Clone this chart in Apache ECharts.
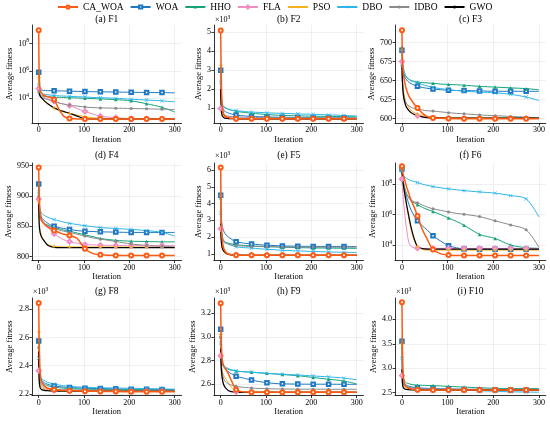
<!DOCTYPE html>
<html>
<head>
<meta charset="utf-8">
<script src="https://cdn.jsdelivr.net/npm/echarts@6/dist/echarts.min.js"></script>
<style>
  html, body { margin: 0; padding: 0; background: #fff; }
  #chart { width: 550px; height: 423px; }
</style>
</head>
<body>
<div id="chart"></div>
<script>
// algorithms, in legend order
const names = ['CA_WOA', 'WOA', 'HHO', 'FLA', 'PSO', 'DBO', 'IDBO', 'GWO'];

// sampled iterations (markers sit every 34 iterations)
const iterations = [0, 1, 3, 6, 10, 15, 20, 27, 34, 45, 55, 68, 85, 102, 120, 136, 170, 204, 238, 272, 300];
const markedIterations = [0, 34, 68, 102, 136, 170, 204, 238, 272];
const xTicks = [0, 100, 200, 300];

// average fitness per panel, rows in the order of names
const f1 = [
  [9e8, 1e6, 4e4, 2.5e4, 1.8e4, 1.5e4, 1.3e4, 1.1e4, 8e3, 1.5e3, 500, 330, 315, 310, 310, 310, 310, 310, 310, 310, 310],
  [8e5, 1e5, 4.5e4, 4e4, 3.8e4, 3.7e4, 3.6e4, 3.6e4, 3.5e4, 3.45e4, 3.4e4, 3.3e4, 3.2e4, 3.1e4, 3e4, 2.95e4, 2.85e4, 2.75e4, 2.65e4, 2.6e4, 2.5e4],
  [9e5, 5e4, 2e4, 1.6e4, 1.4e4, 1.35e4, 1.3e4, 1.25e4, 1.2e4, 1.17e4, 1.14e4, 1.1e4, 1.05e4, 1e4, 9.5e3, 9e3, 8e3, 6.5e3, 4e3, 2.2e3, 1e3],
  [5e4, 3e4, 2e4, 1.5e4, 1.2e4, 1.05e4, 9e3, 7.5e3, 6e3, 4.5e3, 3.8e3, 3e3, 1.8e3, 1.1e3, 700, 500, 380, 330, 320, 320, 320],
  [3.5e5, 3e4, 1.5e4, 1e4, 7e3, 5e3, 4e3, 2.8e3, 2e3, 1.3e3, 1e3, 800, 600, 450, 380, 340, 320, 320, 320, 320, 320],
  [9e4, 4e4, 2.8e4, 2.3e4, 2e4, 1.9e4, 1.8e4, 1.7e4, 1.6e4, 1.5e4, 1.45e4, 1.4e4, 1.3e4, 1.25e4, 1.15e4, 1.1e4, 1e4, 8.5e3, 7.5e3, 6.5e3, 5.5e3],
  [3e4, 2e4, 1.5e4, 1.2e4, 1e4, 9e3, 8e3, 7e3, 6e3, 4.5e3, 3.8e3, 3.2e3, 2.7e3, 2.3e3, 2.1e3, 2e3, 1.9e3, 1.8e3, 1.7e3, 1.6e3, 1.5e3],
  [4e4, 2.5e4, 1.5e4, 1.1e4, 8e3, 5.5e3, 4e3, 2.8e3, 2e3, 1.4e3, 1.1e3, 800, 500, 320, 310, 310, 310, 310, 310, 310, 310]
];
const f2 = [
  [5.1, 3.0, 1.2, 0.7, 0.55, 0.5, 0.47, 0.45, 0.43, 0.425, 0.42, 0.42, 0.42, 0.42, 0.42, 0.42, 0.42, 0.42, 0.42, 0.42, 0.42],
  [3.0, 1.8, 1.1, 0.9, 0.8, 0.75, 0.7, 0.66, 0.62, 0.59, 0.57, 0.55, 0.535, 0.52, 0.51, 0.5, 0.49, 0.48, 0.47, 0.47, 0.46],
  [2.95, 1.8, 1.2, 1.05, 1.0, 0.95, 0.9, 0.86, 0.82, 0.78, 0.75, 0.72, 0.68, 0.65, 0.62, 0.6, 0.58, 0.56, 0.55, 0.54, 0.53],
  [0.97, 0.8, 0.6, 0.5, 0.45, 0.44, 0.43, 0.425, 0.42, 0.42, 0.42, 0.42, 0.42, 0.42, 0.42, 0.42, 0.42, 0.42, 0.42, 0.42, 0.42],
  [3.25, 1.5, 0.8, 0.6, 0.5, 0.47, 0.45, 0.44, 0.43, 0.425, 0.42, 0.42, 0.42, 0.42, 0.42, 0.42, 0.42, 0.42, 0.42, 0.42, 0.42],
  [2.35, 1.6, 1.25, 1.1, 1.0, 0.95, 0.9, 0.87, 0.85, 0.83, 0.8, 0.78, 0.76, 0.74, 0.72, 0.71, 0.68, 0.66, 0.63, 0.6, 0.57],
  [3.0, 1.5, 0.9, 0.7, 0.6, 0.57, 0.55, 0.53, 0.52, 0.51, 0.505, 0.5, 0.495, 0.49, 0.49, 0.485, 0.48, 0.48, 0.475, 0.47, 0.47],
  [2.0, 1.0, 0.6, 0.5, 0.45, 0.44, 0.43, 0.425, 0.42, 0.42, 0.42, 0.42, 0.42, 0.42, 0.42, 0.42, 0.42, 0.42, 0.42, 0.42, 0.42]
];
const f3 = [
  [716, 680, 660, 648, 638, 630, 625, 619, 614, 607, 603, 601, 600.5, 600.2, 600, 600, 600, 600, 600, 600, 600],
  [690, 670, 660, 655, 651, 648, 646, 644, 642.5, 641, 640, 639, 638, 637.5, 637, 637, 636.5, 636, 636, 636, 636],
  [694, 672, 662, 657, 654, 652, 650, 649, 648, 647.5, 647, 646.5, 645.5, 645, 644.5, 644, 642.5, 641.5, 640.5, 639.5, 638],
  [675, 650, 630, 620, 614, 610, 608, 606, 604, 602, 601.5, 601, 600.5, 600.5, 600.5, 600.5, 600.5, 600.5, 600.5, 600.5, 600.5],
  [690, 660, 640, 628, 620, 615, 611, 608, 606, 604, 603, 602, 601.5, 601, 601, 601, 601, 601, 601, 601, 601],
  [688, 675, 668, 660, 655, 652, 650, 648.5, 647, 645, 643, 641, 639.5, 638, 637, 636, 635, 634, 632, 628.5, 624],
  [670, 650, 635, 625, 620, 617, 615, 613.5, 612.5, 611.5, 610.5, 610, 609, 608, 607, 606.5, 605, 604, 603, 602, 601],
  [670, 648, 632, 622, 615, 611, 608, 605.5, 604, 602.5, 601.5, 601, 600.8, 600.8, 600.8, 600.8, 600.8, 600.8, 600.8, 600.8, 600.8]
];
const f4 = [
  [947, 905, 875, 862, 856, 852, 849, 846, 843, 840, 837, 835, 830, 813, 805, 803, 802, 802, 802, 802, 802],
  [920, 890, 872, 865, 861, 858, 855, 852, 850, 848, 846.5, 845, 843, 842, 841.5, 841, 840.5, 840, 840, 840, 840],
  [920, 885, 868, 861, 857, 854, 852, 850, 848, 846, 844, 842, 839, 836, 833, 830, 827, 825.5, 825, 824.5, 824.5],
  [895, 870, 862, 858, 855, 851, 848, 843, 838, 832, 828, 825, 822, 820, 819.5, 819, 818.5, 818.5, 818.5, 818.5, 818.5],
  [890, 860, 845, 835, 828, 823, 820, 818, 817, 816.5, 816, 816, 816, 816, 816, 816, 816, 816, 816, 816, 816],
  [907, 890, 878, 872, 869, 867, 865, 863, 861, 859, 857, 855, 853, 851, 849.5, 848, 846.5, 845, 843, 840, 834],
  [900, 875, 865, 860, 856, 853, 851, 849, 847, 844, 842, 840, 837, 834, 831, 829, 825, 821, 818.5, 817, 816],
  [897, 855, 840, 833, 828, 823, 819, 816.5, 815.5, 815, 815, 815, 815, 815, 815, 815, 815, 815, 815, 815, 815]
];
const f5 = [
  [6.15, 3.5, 2.0, 1.4, 1.15, 1.02, 0.97, 0.94, 0.93, 0.92, 0.92, 0.92, 0.92, 0.92, 0.92, 0.92, 0.92, 0.92, 0.92, 0.92, 0.92],
  [4.5, 3.3, 2.7, 2.4, 2.2, 2.05, 1.95, 1.82, 1.72, 1.67, 1.63, 1.6, 1.55, 1.52, 1.5, 1.48, 1.46, 1.45, 1.45, 1.45, 1.44],
  [4.35, 2.8, 2.0, 1.8, 1.7, 1.66, 1.62, 1.58, 1.55, 1.52, 1.5, 1.48, 1.46, 1.44, 1.42, 1.4, 1.38, 1.36, 1.35, 1.34, 1.33],
  [2.5, 1.8, 1.4, 1.2, 1.1, 1.04, 1.0, 0.97, 0.95, 0.94, 0.93, 0.93, 0.93, 0.93, 0.93, 0.93, 0.93, 0.93, 0.93, 0.93, 0.93],
  [4.5, 2.2, 1.4, 1.15, 1.02, 0.98, 0.96, 0.95, 0.94, 0.93, 0.93, 0.93, 0.93, 0.93, 0.93, 0.93, 0.93, 0.93, 0.93, 0.93, 0.93],
  [3.45, 2.6, 2.1, 1.85, 1.7, 1.62, 1.55, 1.48, 1.42, 1.39, 1.37, 1.35, 1.31, 1.28, 1.25, 1.22, 1.18, 1.15, 1.12, 1.1, 1.08],
  [4.4, 2.6, 2.0, 1.75, 1.65, 1.6, 1.55, 1.52, 1.5, 1.48, 1.46, 1.45, 1.44, 1.43, 1.43, 1.42, 1.41, 1.41, 1.4, 1.4, 1.4],
  [2.8, 1.9, 1.4, 1.2, 1.08, 1.0, 0.96, 0.94, 0.93, 0.92, 0.92, 0.92, 0.92, 0.92, 0.92, 0.92, 0.92, 0.92, 0.92, 0.92, 0.92]
];
const f6 = [
  [1.5e9, 8e8, 4e8, 2e8, 7e7, 2.5e7, 9e6, 3e6, 8e5, 1e5, 2.5e4, 5e3, 2.6e3, 2.2e3, 2e3, 2e3, 2e3, 2e3, 2e3, 2e3, 2e3],
  [1e9, 5e8, 1.5e8, 4e7, 1.5e7, 5e6, 2e6, 8e5, 4e5, 1.8e5, 1e5, 4e4, 1.8e4, 9e3, 6.5e3, 5.5e3, 5.3e3, 5.3e3, 5.3e3, 5.3e3, 5.3e3],
  [1e9, 4e8, 1.5e8, 6e7, 2.5e7, 1.3e7, 8e6, 6e6, 4.5e6, 3e6, 2.2e6, 1.6e6, 1e6, 6e5, 3.5e5, 2e5, 5e4, 2.7e4, 1e4, 6.6e3, 6e3],
  [2.2e8, 6e7, 1e7, 1.2e6, 1.2e5, 1.5e4, 8e3, 6.5e3, 6.2e3, 6e3, 6e3, 6e3, 6e3, 6e3, 6e3, 6e3, 6e3, 6e3, 6e3, 6e3, 6e3],
  [1e9, 3e8, 8e7, 2e7, 4e6, 6e5, 1e5, 2e4, 8e3, 5e3, 4.6e3, 4.6e3, 4.6e3, 4.6e3, 4.6e3, 4.6e3, 4.6e3, 4.6e3, 4.6e3, 4.6e3, 4.6e3],
  [7e8, 5e8, 4e8, 3e8, 2.5e8, 2e8, 1.7e8, 1.5e8, 1.3e8, 1e8, 8.5e7, 7e7, 5.8e7, 4.9e7, 4.3e7, 3.8e7, 3.1e7, 2.6e7, 1.8e7, 1.1e7, 7e5],
  [1e9, 3e8, 1.2e8, 5e7, 2.2e7, 1.3e7, 9e6, 7e6, 6e6, 4.2e6, 3.2e6, 2.4e6, 1.9e6, 1.5e6, 1.2e6, 1.05e6, 7.4e5, 3.9e5, 2.1e5, 1e5, 7e3],
  [1e9, 3e8, 9e7, 2.5e7, 5e6, 8e5, 1.5e5, 2.5e4, 8e3, 5.8e3, 5.4e3, 5.4e3, 5.4e3, 5.4e3, 5.4e3, 5.4e3, 5.4e3, 5.4e3, 5.4e3, 5.4e3, 5.4e3]
];
const f8 = [
  [2.845, 2.6, 2.36, 2.29, 2.265, 2.25, 2.24, 2.235, 2.23, 2.227, 2.225, 2.223, 2.221, 2.22, 2.219, 2.218, 2.217, 2.216, 2.216, 2.215, 2.215],
  [2.575, 2.42, 2.33, 2.3, 2.285, 2.275, 2.268, 2.262, 2.257, 2.252, 2.249, 2.246, 2.243, 2.241, 2.239, 2.238, 2.236, 2.234, 2.233, 2.232, 2.231],
  [2.57, 2.4, 2.32, 2.29, 2.275, 2.265, 2.258, 2.252, 2.248, 2.244, 2.241, 2.238, 2.236, 2.234, 2.233, 2.232, 2.231, 2.23, 2.229, 2.228, 2.228],
  [2.365, 2.3, 2.26, 2.245, 2.238, 2.233, 2.23, 2.228, 2.226, 2.225, 2.224, 2.223, 2.223, 2.222, 2.222, 2.222, 2.222, 2.222, 2.222, 2.222, 2.222],
  [2.64, 2.35, 2.27, 2.245, 2.235, 2.23, 2.228, 2.226, 2.225, 2.224, 2.223, 2.222, 2.222, 2.222, 2.222, 2.222, 2.222, 2.222, 2.222, 2.222, 2.222],
  [2.453, 2.38, 2.33, 2.31, 2.3, 2.29, 2.282, 2.275, 2.27, 2.263, 2.258, 2.254, 2.25, 2.247, 2.245, 2.244, 2.242, 2.24, 2.238, 2.236, 2.234],
  [2.53, 2.36, 2.29, 2.265, 2.25, 2.243, 2.238, 2.235, 2.233, 2.231, 2.23, 2.229, 2.228, 2.228, 2.227, 2.227, 2.227, 2.226, 2.226, 2.226, 2.226],
  [2.5, 2.3, 2.245, 2.232, 2.227, 2.224, 2.223, 2.222, 2.221, 2.22, 2.22, 2.219, 2.219, 2.219, 2.219, 2.219, 2.219, 2.219, 2.219, 2.219, 2.219]
];
const f9 = [
  [3.285, 3.0, 2.82, 2.76, 2.73, 2.7, 2.66, 2.6, 2.55, 2.535, 2.532, 2.53, 2.53, 2.53, 2.53, 2.53, 2.53, 2.53, 2.53, 2.53, 2.53],
  [3.065, 2.85, 2.78, 2.75, 2.73, 2.71, 2.695, 2.68, 2.665, 2.655, 2.645, 2.634, 2.62, 2.611, 2.604, 2.601, 2.599, 2.598, 2.598, 2.597, 2.597],
  [3.0, 2.82, 2.77, 2.75, 2.735, 2.727, 2.72, 2.715, 2.71, 2.706, 2.703, 2.7, 2.695, 2.69, 2.685, 2.68, 2.67, 2.655, 2.64, 2.625, 2.6],
  [2.84, 2.72, 2.65, 2.6, 2.57, 2.55, 2.54, 2.535, 2.533, 2.53, 2.53, 2.53, 2.53, 2.53, 2.53, 2.53, 2.53, 2.53, 2.53, 2.53, 2.53],
  [3.02, 2.8, 2.72, 2.68, 2.65, 2.62, 2.59, 2.56, 2.54, 2.535, 2.532, 2.532, 2.532, 2.532, 2.532, 2.532, 2.532, 2.532, 2.532, 2.532, 2.532],
  [2.95, 2.82, 2.78, 2.76, 2.745, 2.735, 2.725, 2.717, 2.71, 2.705, 2.702, 2.7, 2.695, 2.69, 2.686, 2.683, 2.676, 2.668, 2.66, 2.65, 2.635],
  [3.0, 2.8, 2.7, 2.65, 2.62, 2.605, 2.595, 2.587, 2.58, 2.574, 2.57, 2.565, 2.562, 2.56, 2.558, 2.557, 2.556, 2.556, 2.555, 2.555, 2.555],
  [2.9, 2.75, 2.66, 2.6, 2.57, 2.55, 2.538, 2.532, 2.53, 2.528, 2.528, 2.528, 2.528, 2.528, 2.528, 2.528, 2.528, 2.528, 2.528, 2.528, 2.528]
];
const f10 = [
  [4.35, 3.4, 2.85, 2.68, 2.62, 2.59, 2.575, 2.565, 2.56, 2.557, 2.555, 2.555, 2.555, 2.555, 2.555, 2.555, 2.555, 2.555, 2.555, 2.555, 2.555],
  [3.55, 2.95, 2.75, 2.68, 2.65, 2.635, 2.62, 2.61, 2.6, 2.594, 2.59, 2.585, 2.58, 2.575, 2.571, 2.568, 2.562, 2.558, 2.555, 2.553, 2.552],
  [3.6, 3.0, 2.8, 2.73, 2.7, 2.685, 2.67, 2.662, 2.655, 2.652, 2.648, 2.645, 2.638, 2.63, 2.622, 2.615, 2.6, 2.59, 2.585, 2.585, 2.585],
  [2.85, 2.7, 2.62, 2.59, 2.575, 2.57, 2.565, 2.562, 2.56, 2.558, 2.556, 2.555, 2.555, 2.555, 2.555, 2.555, 2.555, 2.555, 2.555, 2.555, 2.555],
  [3.5, 2.9, 2.7, 2.62, 2.59, 2.58, 2.57, 2.565, 2.562, 2.56, 2.559, 2.558, 2.558, 2.558, 2.558, 2.558, 2.558, 2.558, 2.558, 2.558, 2.558],
  [3.2, 2.8, 2.68, 2.64, 2.62, 2.61, 2.6, 2.592, 2.585, 2.58, 2.575, 2.57, 2.565, 2.56, 2.555, 2.55, 2.54, 2.53, 2.52, 2.515, 2.51],
  [3.55, 2.9, 2.7, 2.64, 2.62, 2.61, 2.6, 2.595, 2.59, 2.586, 2.583, 2.58, 2.578, 2.576, 2.574, 2.573, 2.572, 2.571, 2.57, 2.57, 2.57],
  [2.98, 2.7, 2.6, 2.575, 2.565, 2.562, 2.56, 2.558, 2.557, 2.556, 2.555, 2.555, 2.555, 2.555, 2.555, 2.555, 2.555, 2.555, 2.555, 2.555, 2.555]
];

// y tick labels per panel
const yTicks = [
  [1e4, 1e6, 1e8],
  [1, 2, 3, 4, 5],
  [600, 625, 650, 675, 700],
  [800, 850, 900, 950],
  [1, 2, 3, 4, 5, 6],
  [1e4, 1e6, 1e8],
  [2.2, 2.4, 2.6, 2.8],
  [2.6, 2.8, 3.0, 3.2],
  [2.5, 3.0, 3.5, 4.0]
];
const titles = ['(a) F1', '(b) F2', '(c) F3', '(d) F4', '(e) F5', '(f) F6', '(g) F8', '(h) F9', '(i) F10'];
const panelData = [f1, f2, f3, f4, f5, f6, f8, f9, f10];

// axis setup per panel
const yRange = [[158, 2.2e9], [0.2, 5.39], [594.4, 723], [793.7, 954.5], [0.61, 6.42], [955, 2.5e9], [2.189, 2.88], [2.502, 3.33], [2.443, 4.436]];
const isLog = [true, false, false, false, false, true, false, false, false];
const scaled = [false, true, false, false, true, false, true, true, true];
const decimals = [0, 0, 0, 0, 0, 0, 1, 1, 1];
const nameGaps = [18, 10.5, 19, 17.5, 9, 17, 17.5, 15.5, 17];

const colLeft = [31.9, 213.9, 395.1];
const colWidth = [149.6, 149.6, 150.7];
const rowTop = [25, 163, 298];
const rowHeight = [98, 97.5, 97.5];
const titleY = [19, 155, 291];

const FONT = 'Liberation Serif';
const colors = ['#FF5A12', '#1F78C4', '#15A27A', '#F08CC2', '#F6B01E', '#2BB5EA', '#8A8A8A', '#000000'];
const plusPath = 'path://M4,0H6V4H10V6H6V10H4V6H0V4H4Z';
const crossPath = 'path://M1,0L5,4L9,0L10,1L6,5L10,9L9,10L5,6L1,10L0,9L4,5L0,1Z';
const symbols = ['emptyCircle', 'emptyRect', 'triangle', 'emptyDiamond', plusPath, crossPath, 'circle', 'none'];
const symbolSizes = [4, 3.5, 3.5, 4, 4, 3.8, 3, 0];
const lineWidths = [1.5, 1, 1, 1, 1, 1, 1, 1.2];

const grids = [], xAxes = [], yAxes = [], series = [], graphics = [];

panelData.forEach((rows, p) => {
  const col = p % 3, row = Math.floor(p / 3);
  grids.push({ left: colLeft[col], top: rowTop[row], width: colWidth[col], height: rowHeight[row] });

  const axisLine = { show: true, onZero: false, lineStyle: { color: '#000', width: 0.8 } };
  const split = { color: '#E6E6E6', width: 0.6 };
  const labelStyle = { color: '#000', fontFamily: FONT, fontSize: 8 };

  xAxes.push({
    type: 'value', gridIndex: p, min: -15, max: 315,
    axisLine: axisLine,
    axisTick: { show: true, customValues: xTicks, length: 2.5, lineStyle: { color: '#000', width: 0.8 } },
    axisLabel: Object.assign({ customValues: xTicks, margin: 3 }, labelStyle),
    splitLine: { show: true, customValues: xTicks, lineStyle: split },
    name: 'Iteration', nameLocation: 'middle', nameGap: 11,
    nameTextStyle: { color: '#000', fontFamily: FONT, fontSize: 8.5 }
  });

  const fmt = isLog[p]
    ? (v) => '10{e|' + Math.round(Math.log10(v)) + '}'
    : (v) => v.toFixed(decimals[p]);
  yAxes.push({
    type: isLog[p] ? 'log' : 'value', logBase: 10, gridIndex: p,
    min: yRange[p][0], max: yRange[p][1],
    axisLine: axisLine,
    axisTick: { show: true, customValues: yTicks[p], length: 2.5, lineStyle: { color: '#000', width: 0.8 } },
    axisLabel: Object.assign({
      customValues: yTicks[p], margin: 3, formatter: fmt,
      rich: { e: { fontSize: 5.5, fontFamily: FONT, color: '#000', padding: [0, 0, 5, 0] } }
    }, labelStyle),
    splitLine: { show: true, customValues: yTicks[p], lineStyle: split },
    name: 'Average fitness', nameLocation: 'middle', nameGap: nameGaps[p],
    nameTextStyle: { color: '#000', fontFamily: FONT, fontSize: 8.5 }
  });

  graphics.push({
    type: 'text', x: colLeft[col] + colWidth[col] / 2, y: titleY[row],
    style: { text: titles[p], fill: '#000', font: '9.5px "' + FONT + '"', textAlign: 'center', textVerticalAlign: 'middle' }
  });
  if (scaled[p]) {
    graphics.push({
      type: 'text', x: colLeft[col] + 1, y: titleY[row] + 1,
      style: {
        text: '×10{s|3}', fill: '#000', font: '8px "' + FONT + '"', textAlign: 'left', textVerticalAlign: 'middle',
        rich: { s: { fontSize: 5.5, fontFamily: FONT, fill: '#000', padding: [0, 0, 5, 0] } }
      }
    });
  }

  rows.forEach((vals, s) => {
    series.push({
      name: names[s], type: 'line', xAxisIndex: p, yAxisIndex: p,
      data: vals.map((v, k) => markedIterations.includes(iterations[k])
        ? [iterations[k], v]
        : { value: [iterations[k], v], symbol: 'none' }),
      symbol: symbols[s], symbolSize: symbolSizes[s], showSymbol: s !== 7,
      smooth: 0.3,
      lineStyle: { color: colors[s], width: lineWidths[s] },
      itemStyle: { color: colors[s], borderWidth: 0.7 },
      z: s === 0 ? 4 : 3,
      emphasis: { disabled: true }
    });
  });
});

const chart = echarts.init(document.getElementById('chart'));
chart.setOption({
  animation: false,
  backgroundColor: '#fff',
  textStyle: { fontFamily: FONT },
  legend: {
    data: names, top: 2, left: 57, itemGap: 6, itemWidth: 20, itemHeight: 4, padding: 0,
    itemStyle: { borderWidth: 0.7 },
    textStyle: { color: '#000', fontFamily: FONT, fontSize: 9.5 }
  },
  grid: grids,
  xAxis: xAxes,
  yAxis: yAxes,
  graphic: graphics,
  series: series
});
</script>
</body>
</html>
